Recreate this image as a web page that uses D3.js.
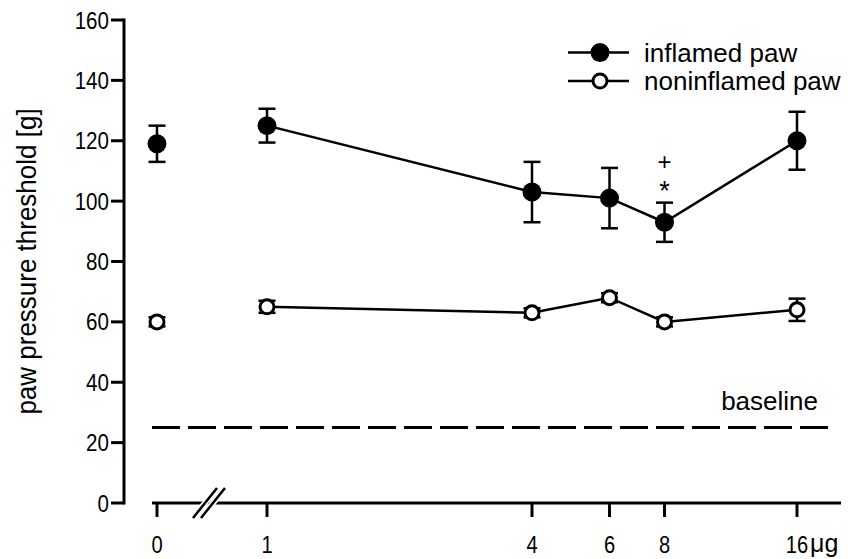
<!DOCTYPE html>
<html>
<head>
<meta charset="utf-8">
<script src="https://cdn.jsdelivr.net/npm/d3@7"></script>
<style>
  body { margin: 0; background: #fff; }
  text { font-family: "Liberation Sans", Arial, sans-serif; fill: #000; }
</style>
</head>
<body>
<div id="chart"></div>
<script>
// doses (µg), 0 = vehicle, drawn left of the axis break
const doses = [0, 1, 4, 6, 8, 16];
const inflamedMean = [119, 125, 103, 101, 93, 120];
const inflamedErr = [6, 5.6, 10, 10, 6.5, 9.6];
const noninflamedMean = [60, 65, 63, 68, 60, 64];
const noninflamedErr = [1.5, 2, 1.5, 1.5, 1.5, 3.7];
const yTicks = [0, 20, 40, 60, 80, 100, 120, 140, 160];
const baselineValue = 25;

const width = 848, height = 559;
const svg = d3.select('#chart').append('svg')
  .attr('width', width).attr('height', height);

const y = d3.scaleLinear().domain([0, 160]).range([503, 20]);
const xLog = d3.scaleLog().domain([1, 16]).range([267, 797]);
const x = d => d === 0 ? xLog(1) - 110 : xLog(d);
const yAxisX = 124;

// y axis
svg.append('line')
  .attr('x1', yAxisX).attr('x2', yAxisX)
  .attr('y1', y(160) - 1.5).attr('y2', y(0) + 1.5)
  .attr('stroke', '#000').attr('stroke-width', 3);
svg.append('g').selectAll('line')
  .data(yTicks).enter().append('line')
  .attr('x1', yAxisX - 13).attr('x2', yAxisX)
  .attr('y1', d => y(d)).attr('y2', d => y(d))
  .attr('stroke', '#000').attr('stroke-width', 3);
// labels are tall and narrow in the original
svg.append('g').selectAll('text')
  .data(yTicks).enter().append('text')
  .attr('transform', d => `translate(${yAxisX - 15},${y(d) + 8.5}) scale(0.84,1)`)
  .attr('text-anchor', 'end')
  .attr('font-size', 24.5)
  .text(d => d);

svg.append('text')
  .attr('transform', `translate(36,${(y(0) + y(160)) / 2}) rotate(-90) scale(1,1.05)`)
  .attr('text-anchor', 'middle')
  .attr('font-size', 26)
  .text('paw pressure threshold [g]');

// x axis
svg.append('line')
  .attr('x1', x(0) - 5).attr('x2', 841)
  .attr('y1', y(0)).attr('y2', y(0))
  .attr('stroke', '#000').attr('stroke-width', 3);
svg.append('g').selectAll('line')
  .data(doses).enter().append('line')
  .attr('x1', d => x(d)).attr('x2', d => x(d))
  .attr('y1', y(0)).attr('y2', y(0) + 14)
  .attr('stroke', '#000').attr('stroke-width', 3);
svg.append('g').selectAll('text')
  .data(doses).enter().append('text')
  .attr('transform', d => `translate(${x(d)},553) scale(0.84,1)`)
  .attr('text-anchor', 'middle')
  .attr('font-size', 24)
  .text(d => d);
svg.append('text')
  .attr('x', x(16) + 13).attr('y', 552)
  .attr('font-family', '"Liberation Serif", "Times New Roman", serif')
  .attr('font-size', 25)
  .text('\u03bcg');

// axis break
const bx = (x(0) + x(1)) / 2 - 3;
[-4, 4].forEach(o => {
  svg.append('line')
    .attr('x1', bx + o - 12).attr('y1', y(0) + 15)
    .attr('x2', bx + o + 12).attr('y2', y(0) - 15)
    .attr('stroke', '#fff').attr('stroke-width', 6);
});
[-4, 4].forEach(o => {
  svg.append('line')
    .attr('x1', bx + o - 12).attr('y1', y(0) + 15)
    .attr('x2', bx + o + 12).attr('y2', y(0) - 15)
    .attr('stroke', '#000').attr('stroke-width', 2.5);
});

// baseline
svg.append('line')
  .attr('x1', 152).attr('x2', 834)
  .attr('y1', y(baselineValue)).attr('y2', y(baselineValue))
  .attr('stroke', '#000').attr('stroke-width', 3)
  .attr('stroke-dasharray', '28,8');
svg.append('text')
  .attr('x', 818).attr('y', 410)
  .attr('text-anchor', 'end')
  .attr('font-size', 26)
  .text('baseline');

const series = [
  { mean: inflamedMean, err: inflamedErr, fill: '#000', r: 9.5 },
  { mean: noninflamedMean, err: noninflamedErr, fill: '#fff', r: 8.5 }
];

const line = d3.line().x(d => x(d.dose)).y(d => y(d.v));

series.forEach(s => {
  const pts = doses.map((d, i) => ({ dose: d, v: s.mean[i], e: s.err[i] }));
  svg.append('path')
    .datum(pts.filter(p => p.dose > 0))
    .attr('d', line)
    .attr('fill', 'none')
    .attr('stroke', '#000').attr('stroke-width', 2.5);

  const eb = svg.append('g').selectAll('g').data(pts).enter().append('g');
  eb.append('line')
    .attr('x1', d => x(d.dose)).attr('x2', d => x(d.dose))
    .attr('y1', d => y(d.v - d.e)).attr('y2', d => y(d.v + d.e))
    .attr('stroke', '#000').attr('stroke-width', 2.5);
  [-1, 1].forEach(sg => {
    eb.append('line')
      .attr('x1', d => x(d.dose) - 8.5).attr('x2', d => x(d.dose) + 8.5)
      .attr('y1', d => y(d.v + sg * d.e)).attr('y2', d => y(d.v + sg * d.e))
      .attr('stroke', '#000').attr('stroke-width', 2.5);
  });

  svg.append('g').selectAll('circle').data(pts).enter().append('circle')
    .attr('cx', d => x(d.dose)).attr('cy', d => y(d.v))
    .attr('r', s.fill === '#000' ? s.r : s.r - 1.5)
    .attr('fill', s.fill)
    .attr('stroke', '#000').attr('stroke-width', s.fill === '#000' ? 0 : 3);
});

// significance marks at 8 µg
svg.append('text')
  .attr('x', x(8)).attr('y', 170)
  .attr('text-anchor', 'middle')
  .attr('font-family', '"Liberation Serif", "Times New Roman", serif')
  .attr('font-size', 24)
  .text('+');
svg.append('text')
  .attr('x', x(8)).attr('y', 200)
  .attr('text-anchor', 'middle')
  .attr('font-family', '"Liberation Serif", "Times New Roman", serif')
  .attr('font-size', 27)
  .text('*');

// legend
const legend = [
  { label: 'inflamed paw', fill: '#000' },
  { label: 'noninflamed paw', fill: '#fff' }
];
const lg = svg.append('g').selectAll('g').data(legend).enter().append('g')
  .attr('transform', (d, i) => `translate(0,${52.5 + i * 28.5})`);
lg.append('line')
  .attr('x1', 568).attr('x2', 629)
  .attr('stroke', '#000').attr('stroke-width', 2.5);
lg.append('circle')
  .attr('cx', 600)
  .attr('r', d => d.fill === '#000' ? 9.5 : 7)
  .attr('fill', d => d.fill)
  .attr('stroke', '#000').attr('stroke-width', d => d.fill === '#000' ? 0 : 3);
lg.append('text')
  .attr('x', 644).attr('y', 9)
  .attr('font-size', 26)
  .text(d => d.label);
</script>
</body>
</html>
